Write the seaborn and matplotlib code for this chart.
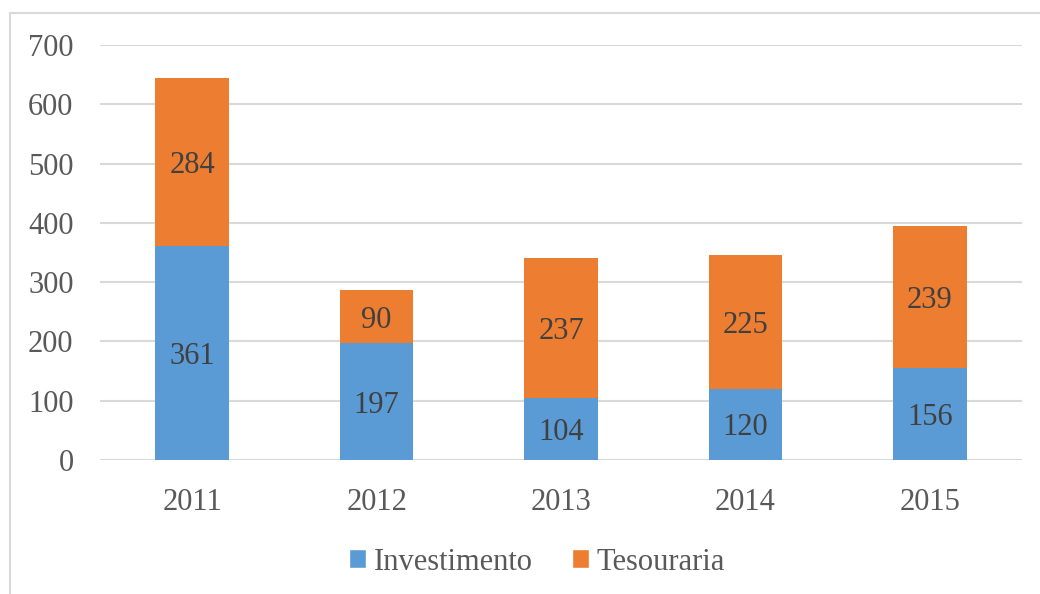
import matplotlib
matplotlib.use("Agg")
import matplotlib.pyplot as plt
import seaborn as sns
import pandas as pd
from matplotlib.patches import Rectangle, Patch

anos = ["2011", "2012", "2013", "2014", "2015"]
investimento = [361, 197, 104, 120, 156]
tesouraria = [284, 90, 237, 225, 239]

azul = "#5B9BD5"
laranja = "#ED7D31"
cinza = "#595959"

df = pd.DataFrame({"ano": anos, "Investimento": investimento, "Tesouraria": tesouraria})
df["total"] = df["Investimento"] + df["Tesouraria"]

sns.set_style("white")
plt.rcParams["font.family"] = ["Liberation Serif", "DejaVu Serif"]

fig = plt.figure(figsize=(10.4, 5.94), dpi=100)
ax = fig.add_axes([100 / 1040, 1 - 460 / 594, 922 / 1040, 415 / 594])

# barras empilhadas: total em laranja, investimento por cima em azul
sns.barplot(data=df, x="ano", y="total", color=laranja, saturation=1, width=0.4,
            linewidth=0, ax=ax, zorder=3)
sns.barplot(data=df, x="ano", y="Investimento", color=azul, saturation=1, width=0.4,
            linewidth=0, ax=ax, zorder=3)

desloc = 6  # rótulos um pouco abaixo do centro, como no Excel
for i, row in df.iterrows():
    ax.text(i, row["Investimento"] / 2 - desloc, str(row["Investimento"]), ha="center", va="center",
            fontsize=22, color="#404040", zorder=4)
    ax.text(i, row["Investimento"] + row["Tesouraria"] / 2 - desloc, str(row["Tesouraria"]),
            ha="center", va="center", fontsize=22, color="#404040", zorder=4)

ax.set_ylim(0, 700)
ax.set_xlim(-0.5, 4.5)
ax.set_yticks(range(0, 701, 100))
ax.yaxis.grid(True, color="#D9D9D9", linewidth=1.5, zorder=0)
ax.set_axisbelow(True)
for s in ax.spines.values():
    s.set_visible(False)
ax.tick_params(axis="both", length=0, labelsize=22, colors=cinza)
ax.tick_params(axis="y", pad=19)
ax.tick_params(axis="x", pad=20)
ax.set_xlabel("")
ax.set_ylabel("")

handles = [Patch(facecolor=azul, label="Investimento"), Patch(facecolor=laranja, label="Tesouraria")]
leg = fig.legend(handles=handles, loc="center", bbox_to_anchor=(537 / 1040, 1 - 562 / 594), ncol=2,
                 frameon=False, fontsize=22, handlelength=0.55, handleheight=0.55,
                 handletextpad=0.25, columnspacing=1.3)
for t in leg.get_texts():
    t.set_color(cinza)

# moldura do gráfico
fig.patches.append(Rectangle((10 / 1040, -0.05), 1.1, 1 - 13 / 594 + 0.05, transform=fig.transFigure,
                             fill=False, edgecolor="#D9D9D9", linewidth=1.5))

fig.savefig("out.png", dpi=100)
